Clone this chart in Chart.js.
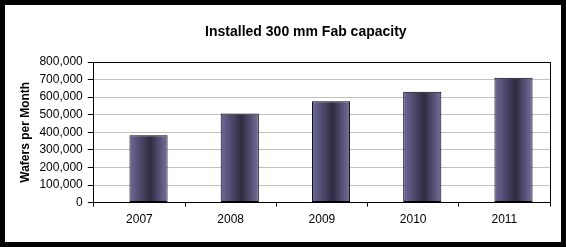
<!DOCTYPE html>
<html><head><meta charset="utf-8">
<script src="https://cdn.jsdelivr.net/npm/chart.js@4"></script>
<style>
html,body{margin:0;padding:0;background:#000;width:566px;height:247px;overflow:hidden}
#frame{position:absolute;left:5px;top:5px;width:556px;height:237px;background:#fff}
canvas{display:block}
</style></head><body>
<div id="frame"><canvas id="c" width="556" height="237"></canvas></div>
<script>
const chartTitle = 'Installed 300 mm Fab capacity';
const yAxisTitle = 'Wafers per Month';
const categories = ['2007', '2008', '2009', '2010', '2011'];
const capacity = [383000, 507000, 576000, 631000, 710000];
const yMin = 0, yMax = 800000, yStep = 100000;

Chart.defaults.font.family = '"Liberation Sans", Arial, sans-serif';
Chart.defaults.color = '#000';

const barShade = {
  id: 'barShade',
  beforeDatasetsDraw(chart) {
    const ctx = chart.ctx;
    chart.getDatasetMeta(1).data.forEach(el => {
      const p = el.getProps(['x', 'width'], true);
      const l = p.x - p.width / 2;
      const g = ctx.createLinearGradient(l, 0, l + p.width, 0);
      g.addColorStop(0, '#6e6999');
      g.addColorStop(0.55, '#2e2b41');
      g.addColorStop(1, '#76719f');
      el.options = Object.assign({}, el.options, { backgroundColor: g });
    });
  }
};

const offsetTitle = {
  id: 'offsetTitle',
  afterDraw(chart) {
    const { ctx, chartArea } = chart;
    ctx.save();
    ctx.font = 'bold 14px "Liberation Sans", Arial, sans-serif';
    ctx.fillStyle = '#000';
    ctx.textAlign = 'center';
    ctx.textBaseline = 'middle';
    ctx.fillText(chartTitle, (chartArea.left + chartArea.right) / 2 - 16, 27);
    ctx.restore();
  }
};

new Chart(document.getElementById('c'), {
  type: 'bar',
  data: {
    labels: categories,
    datasets: [
      { label: 'spacer', data: [] },
      { label: 'Installed capacity', data: capacity, backgroundColor: '#4a4666',
        borderColor: '#000', borderWidth: 1, borderSkipped: false }
    ]
  },
  options: {
    responsive: false,
    animation: false,
    datasets: { bar: { categoryPercentage: 0.4, barPercentage: 2.09 } },
    layout: { padding: { top: 57, left: 9, right: 11, bottom: 9 } },
    plugins: { legend: { display: false }, tooltip: { enabled: false }, title: { display: false } },
    scales: {
      x: {
        offset: true,
        grid: { offset: true, drawOnChartArea: false, drawTicks: true, tickLength: 4, tickColor: '#000' },
        border: { color: '#000', width: 1 },
        ticks: { color: '#000', font: { size: 12 }, padding: 6 }
      },
      y: {
        min: yMin, max: yMax,
        ticks: { stepSize: yStep, color: '#000', font: { size: 12 }, padding: 5,
          callback: v => Number(v).toLocaleString('en-US') },
        grid: { color: c => (c.tick && c.tick.value === yMax) ? '#000' : '#c0c0c0',
          tickColor: '#000', tickLength: 6 },
        border: { color: '#000', width: 1 },
        title: { display: true, text: yAxisTitle, color: '#000',
          font: { size: 12, weight: 'bold' }, padding: { top: 4, bottom: 2 } }
      },
      y2: {
        position: 'right', display: true,
        grid: { drawOnChartArea: false, drawTicks: false },
        ticks: { display: false },
        border: { color: '#000', width: 1 }
      }
    }
  },
  plugins: [barShade, offsetTitle]
});
</script>
</body></html>
